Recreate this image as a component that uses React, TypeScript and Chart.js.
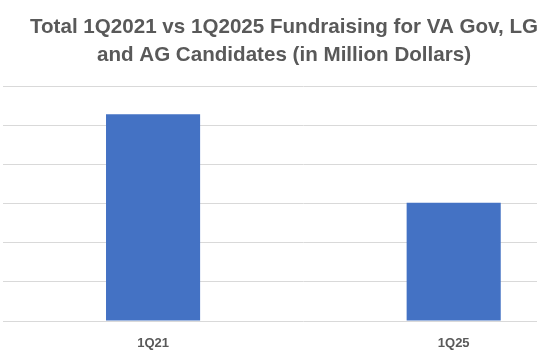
import React, { useEffect, useRef } from "react";
import { Chart, registerables } from "chart.js";

Chart.register(...registerables);

const categories: string[] = ["1Q21", "1Q25"];
const fundraising: number[] = [26.4, 15.1];
const titleLines: string[] = [
  "Total 1Q2021 vs 1Q2025 Fundraising for VA Gov, LG",
  "and AG Candidates (in Million Dollars)",
];
const yMin = 0;
const yMax = 30;
const yStep = 5;

const CANVAS_LEFT = -36;
const CANVAS_W = 640;
const CANVAS_H = 375;

export default function App() {
  const ref = useRef<HTMLCanvasElement | null>(null);

  useEffect(() => {
    if (!ref.current) return;
    const chart = new Chart(ref.current, {
      type: "bar",
      data: {
        labels: categories,
        datasets: [
          {
            label: "Fundraising",
            data: fundraising,
            backgroundColor: "#4472C4",
            borderWidth: 0,
            categoryPercentage: 1,
            barPercentage: 0.313,
          },
        ],
      },
      options: {
        responsive: false,
        animation: false,
        devicePixelRatio: 1,
        layout: { padding: { left: 0, right: 0, top: 0, bottom: 8.4 } },
        plugins: {
          legend: { display: false },
          tooltip: { enabled: false },
          title: {
            display: true,
            text: titleLines,
            color: "#595959",
            font: { family: "'Liberation Sans', Arial, sans-serif", size: 20.6, weight: "bold", lineHeight: 1.385 },
            padding: { top: 13, bottom: 16 },
          },
        },
        scales: {
          x: {
            grid: { display: false, drawTicks: false },
            border: { display: false },
            ticks: {
              color: "#595959",
              padding: 15,
              font: { family: "'Liberation Sans', Arial, sans-serif", size: 13, weight: "bold" },
            },
          },
          y: {
            min: yMin,
            max: yMax,
            ticks: { display: false, stepSize: yStep },
            grid: { color: "#d9d9d9", lineWidth: 1, drawTicks: false },
            border: { display: false },
            afterFit: (scale: any) => {
              scale.width = 38.75;
            },
          },
        },
      },
    });
    return () => chart.destroy();
  }, []);

  return (
    <div
      style={{
        position: "fixed",
        left: 0,
        top: 0,
        width: 537,
        height: 360,
        overflow: "hidden",
        background: "#ffffff",
      }}
    >
      <div style={{ position: "absolute", left: CANVAS_LEFT, top: 0, width: CANVAS_W, height: CANVAS_H }}>
        <canvas ref={ref} width={CANVAS_W} height={CANVAS_H} style={{ display: "block" }} />
      </div>
    </div>
  );
}
